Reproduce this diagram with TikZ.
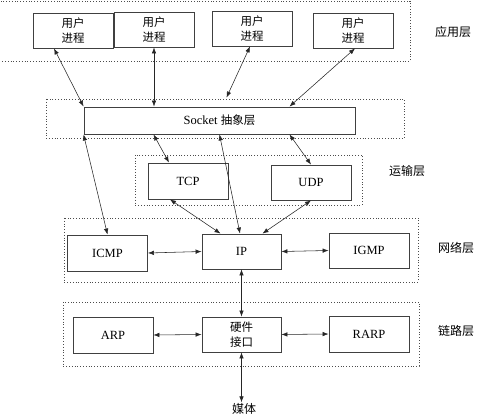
\documentclass[tikz,border=0pt]{standalone}
\usepackage{fontspec}
\setmainfont{Liberation Serif}
\newfontfamily\cjk{Noto Sans CJK SC}
\usepackage{tikz}
\usetikzlibrary{arrows.meta, positioning}

\begin{document}
\begin{tikzpicture}[
        x=1pt, y=-1pt,
        box/.style={rectangle, draw=black!75, line width=0.9pt, fill=white,
                    minimum width=80pt, minimum height=35pt, inner sep=1pt,
                    align=center, font=\fontsize{12.5}{14.5}\selectfont},
        layer/.style={draw=black!70, line width=0.8pt, dotted},
        lbl/.style={font=\fontsize{12}{14}\selectfont\cjk, inner sep=1pt},
        arr/.style={{Latex[length=6pt,width=4.5pt]}-{Latex[length=6pt,width=4.5pt]},
                    line width=0.55pt, black!85}
    ]
    \useasboundingbox (0,0) rectangle (485,417);
    \clip (0,0) rectangle (485,417);

    % Layers
    \draw[layer] (-5,1) rectangle (410,61);
    \draw[layer] (46,99) rectangle (404,138);
    \draw[layer] (135,155) rectangle (362,205);
    \draw[layer] (64,218) rectangle (418,282);
    \draw[layer] (63,302) rectangle (419,366);

    % Row 1
    \node[box] (u1) at (73,30.5)  {\cjk\fontsize{11.5}{14.5}\selectfont 用户\\\cjk\fontsize{11.5}{14.5}\selectfont 进程};
    \node[box] (u2) at (154,29.5) {\cjk\fontsize{11.5}{14.5}\selectfont 用户\\\cjk\fontsize{11.5}{14.5}\selectfont 进程};
    \node[box] (u3) at (252,28.5) {\cjk\fontsize{11.5}{14.5}\selectfont 用户\\\cjk\fontsize{11.5}{14.5}\selectfont 进程};
    \node[box] (u4) at (353,30.5) {\cjk\fontsize{11.5}{14.5}\selectfont 用户\\\cjk\fontsize{11.5}{14.5}\selectfont 进程};

    % Socket
    \node[box, minimum width=271pt, minimum height=27pt] (sock) at (219.5,120.5)
        {Socket {\cjk\fontsize{11.5}{14.5}\selectfont 抽象层}};

    % Transport
    \node[box, minimum height=36pt] (tcp) at (188,181) {TCP};
    \node[box] (udp) at (311,182.5) {UDP};

    % Network
    \node[box, minimum height=36pt] (icmp) at (107.5,253) {ICMP};
    \node[box, minimum width=79pt] (ip) at (241.5,251.5) {IP};
    \node[box] (igmp) at (369,250.5) {IGMP};

    % Link
    \node[box, minimum height=36pt] (arp) at (113,335) {ARP};
    \node[box, minimum width=79pt] (hw) at (241.5,334.5)
        {\cjk\fontsize{11.5}{14.5}\selectfont 硬件\\\cjk\fontsize{11.5}{14.5}\selectfont 接口};
    \node[box, minimum height=36pt] (rarp) at (369,334) {RARP};

    \node[lbl] (media) at (244,409) {媒体};

    % Layer names
    \node[lbl] (lapp) at (453,32) {应用层};
    \node[lbl] (ltra) at (407,171) {运输层};
    \node[lbl] (lnet) at (456,248) {网络层};
    \node[lbl] (llnk) at (456,331) {链路层};

    % Connections
    \draw[arr] ([xshift=-19pt]u1.south)--(sock.north west);
    \draw[arr] (u2.south)--(u2.south |- sock.north);
    \draw[arr] ([xshift=-2pt]u3.south)--([xshift=7pt,yshift=9pt]sock.north);
    \draw[arr] ([xshift=2pt]u4.south)--([xshift=70pt]sock.north);
    \draw[arr] ([xshift=-66pt]sock.south)--([xshift=-19pt]tcp.north);
    \draw[arr] ([xshift=70pt]sock.south)--(udp.north);
    \draw[arr] (sock.south)--([xshift=-1.5pt]ip.north);
    \draw[arr] (sock.south west)--(icmp.north);
    \draw[arr] ([xshift=-18pt]tcp.south)--([xshift=-21pt]ip.north);
    \draw[arr] (udp.south)--([xshift=21pt]ip.north);
    \draw[arr] (icmp.east)--(ip.west); \draw[arr] (ip.east)--(igmp.west);
    \draw[arr] (ip.south)--(hw.north);
    \draw[arr] (arp.east)--(hw.west); \draw[arr] (hw.east)--(rarp.west);
    \draw[arr] (hw.south)--(hw.south |- media.north);
\end{tikzpicture}
\end{document}
